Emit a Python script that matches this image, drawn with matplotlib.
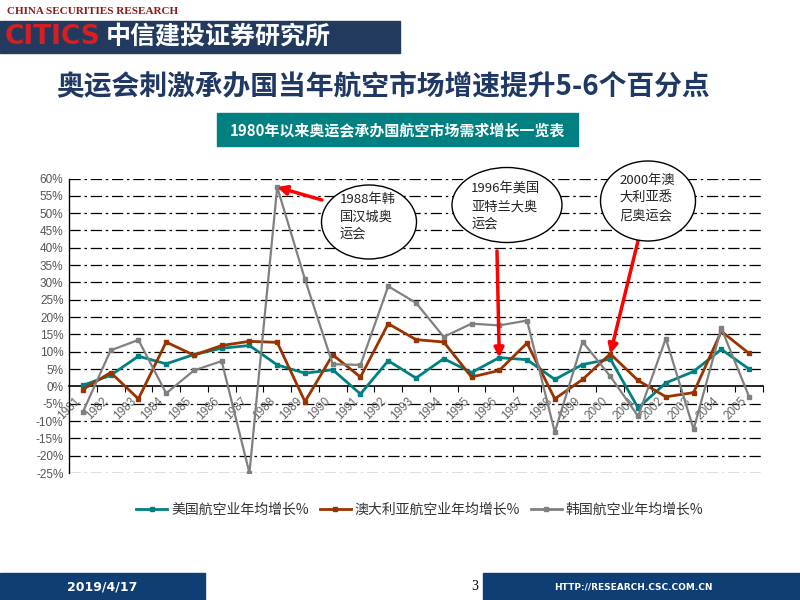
import numpy as np
import matplotlib
matplotlib.use("Agg")
import matplotlib.pyplot as plt
from matplotlib.patches import Ellipse, Rectangle
from matplotlib.lines import Line2D

plt.rcParams['font.family'] = ['Noto Sans CJK SC', 'DejaVu Sans']

years = [str(y) for y in range(1981, 2006)]
usa = [0.3, 3.2, 8.7, 6.5, 9.2, 11.0, 11.8, 6.2, 3.8, 4.8, -2.2, 7.4, 2.4,
       8.0, 4.0, 8.3, 7.7, 2.0, 6.3, 7.9, -6.2, 1.0, 4.3, 10.7, 5.0]
australia = [-0.9, 4.0, -3.6, 12.8, 9.0, 11.8, 13.0, 12.7, -4.4, 9.1, 2.7, 18.1, 13.5,
             12.8, 2.7, 4.6, 12.5, -3.6, 2.0, 9.4, 1.7, -3.0, -1.8, 15.9, 9.5]
korea = [-7.4, 10.4, 13.4, -2.0, 4.6, 7.3, -25.0, 57.5, 30.9, 6.4, 6.2, 28.9, 24.1,
         14.3, 18.1, 17.6, 19.0, -13.2, 12.9, 2.9, -8.6, 13.8, -12.4, 16.8, -3.0]
series_names = ['美国航空业年均增长%', '澳大利亚航空业年均增长%', '韩国航空业年均增长%']
colors = ['#008080', '#993300', '#808080']

W, H = 800, 600
def fx(x):
    return x / W
def fy(y):
    return 1 - y / H

fig = plt.figure(figsize=(8, 6), dpi=100)

# header
fig.text(fx(7), fy(12), 'CHINA SECURITIES RESEARCH', color='#8B1A1A', fontsize=8,
         fontweight='bold', family=['Liberation Serif'], va='center')
fig.add_artist(Rectangle((0, fy(53.3)), 400 / W, 32.6 / H, transform=fig.transFigure,
                         color='#223A5E', zorder=0))
fig.text(fx(5), fy(37), 'CITICS', color='#D81E22', fontsize=19, fontweight='bold',
         family=['Liberation Sans Narrow', 'DejaVu Sans'], va='center')
fig.text(fx(106), fy(37), '中信建投证券研究所', color='white', fontsize=18,
         fontweight='bold', va='center')

# titles
fig.text(fx(383), fy(86), '奥运会刺激承办国当年航空市场增速提升5-6个百分点',
         color='#1F3864', fontsize=20, fontweight='bold', ha='center', va='center')
fig.add_artist(Rectangle((fx(217), fy(146)), 361 / W, 33 / H, transform=fig.transFigure,
                         color='#008080', zorder=0))
fig.text(fx(397), fy(130), '1980年以来奥运会承办国航空市场需求增长一览表', color='white',
         fontsize=10.8, fontweight='bold', ha='center', va='center')

# plot
ax = fig.add_axes([fx(69), fy(473), 694 / W, 294.5 / H])
x = np.arange(len(years))
ax.set_xlim(-0.5, len(years) - 0.5)
ax.set_ylim(-25, 60)

for v in range(-25, 61, 5):
    if v != 0:
        ax.axhline(v, color='black', lw=0.9, ls=(0, (9, 3, 2, 3)), zorder=1)

for vals, c, lw in zip([usa, australia, korea], colors, [2, 2, 1.6]):
    ax.plot(x, vals, color=c, lw=lw, marker='s', ms=3.5, zorder=3)

ax.spines['top'].set_visible(False)
ax.spines['right'].set_visible(False)
ax.spines['bottom'].set_position(('data', 0))
ax.spines['bottom'].set_linewidth(1.2)
ax.spines['left'].set_linewidth(1)

ax.set_yticks(range(-25, 61, 5))
ax.set_yticklabels([f'{v}%' for v in range(-25, 61, 5)])
ax.tick_params(axis='y', length=0, pad=4, labelsize=8.5, labelcolor='#555555')
ax.yaxis.set_tick_params(labelfontfamily='Liberation Sans')

ax.set_xticks(x)
ax.set_xticks(np.arange(-0.5, len(years)), minor=True)
ax.set_xticklabels(years, rotation=45, ha='right', va='top', fontsize=8.5,
                   color='#666666', family='Liberation Sans')
ax.tick_params(axis='x', which='major', length=0, pad=6)
ax.tick_params(axis='x', which='minor', length=4, direction='out', width=0.8)

# callouts
bubbles = [
    ((369, 222), 95, 74, (340, 217), '1988年韩\n国汉城奥\n运会'),
    ((507, 205), 110, 75, (471, 207), '1996年美国\n亚特兰大奥\n运会'),
    ((648, 201), 95, 80, (619, 198), '2000年澳\n大利亚悉\n尼奥运会'),
]
for (cx, cy), w, h, (tx, ty), txt in bubbles:
    fig.add_artist(Ellipse((fx(cx), fy(cy)), w / W, h / H, transform=fig.transFigure,
                           facecolor='white', edgecolor='black', lw=1, zorder=4))
    fig.text(fx(tx), fy(ty), txt, fontsize=9.5, ha='left', va='center',
             linespacing=1.45, color='#222222', zorder=5)

arrows = [((7, 57.5), (322, 200)), ((15, 8.3), (497, 251)), ((19, 9.4), (638, 241))]
for xy, (tx, ty) in arrows:
    ax.annotate('', xy=xy, xytext=(fx(tx), fy(ty)), textcoords='figure fraction',
                arrowprops=dict(arrowstyle='-|>', color='#FF0000', lw=2.5,
                                mutation_scale=14, shrinkA=0, shrinkB=0),
                zorder=6, annotation_clip=False)

handles = [Line2D([], [], color=c, lw=2, marker='s', ms=3) for c in colors]
fig.legend(handles, series_names, loc='center', bbox_to_anchor=(fx(420), fy(510)),
           ncol=3, frameon=False, fontsize=10, handlelength=2.2, handletextpad=0.3,
           columnspacing=0.8, labelcolor='#333333')

# footer
fig.add_artist(Rectangle((0, 0), 205 / W, 27 / H, transform=fig.transFigure,
                         color='#0E3E74', zorder=0))
fig.add_artist(Rectangle((fx(483), 0), 317 / W, 27 / H, transform=fig.transFigure,
                         color='#0E3E74', zorder=0))
fig.text(fx(102), fy(587), '2019/4/17', color='white', fontsize=9, fontweight='bold',
         ha='center', va='center', family='DejaVu Sans')
fig.text(fx(475), fy(586), '3', color='black', fontsize=10, ha='center', va='center',
         family='Liberation Serif')
fig.text(fx(633), fy(587), 'HTTP://RESEARCH.CSC.COM.CN', color='white', fontsize=6.5,
         fontweight='bold', ha='center', va='center', family='DejaVu Sans')

fig.savefig('out.png', dpi=100)
